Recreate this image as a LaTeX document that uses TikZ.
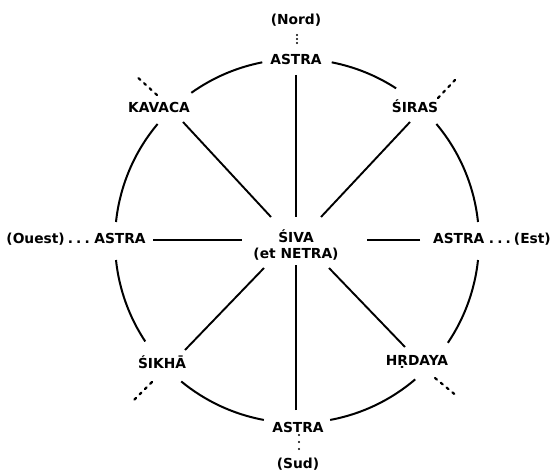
\documentclass[tikz,border=0pt]{standalone}
\usepackage{fontspec}
\usetikzlibrary{calc}
\newfontfamily\labfont{DejaVu Sans}
\newcommand{\tdots}{.\hspace{3.2pt}.\hspace{3.2pt}.}
\begin{document}
\begin{tikzpicture}[x=1pt,y=1pt,
  lab/.style={font=\labfont\bfseries\fontsize{13.8}{16.5}\selectfont, inner sep=0pt},
  ln/.style={line width=1.9pt},
  arcln/.style={line width=2pt},
  dt/.style={line width=2.2pt, dash pattern=on 2.5pt off 5pt, line cap=round},
  pt/.style={fill=black, inner sep=0pt, minimum size=2.2pt, circle}]
\useasboundingbox (0,0) rectangle (552,472);
\coordinate (c) at (297,231);
\coordinate (er) at (551,0);
% labels
\node[lab] (nord) at (296,452) {(Nord)};
\node[lab] (aN) at (296,413) {ASTRA};
\node[lab] (kav) at (159,365) {KAVACA};
\node[lab] (sir) at (415,366) {ŚIRAS};
\node[lab] (aW) at (120,234) {ASTRA};
\node[lab, anchor=base east] (ouest) at ([xshift=-4pt]aW.base west) {(Ouest)\hspace{3pt}\tdots};
\node[lab, anchor=base east] (est) at (aW.base -| er) {\tdots\hspace{3pt}(Est)};
\node[lab, anchor=base east] (aE) at ([xshift=-4pt]est.base west) {ASTRA};
\node[lab, align=center] (siva) at (296,227) {ŚIVA\\(et NETRA)};
\node[lab] (sik) at (162,110) {ŚIKHĀ};
\node[lab] (hrd) at (417,110) {HṚDAYA};
\node[lab] (aS) at (298,45) {ASTRA};
\node[lab] (sud) at (298,8) {(Sud)};
% circle arcs
\foreach \a/\b in {6/40, 57/79, 101/125.5, 140/174, 186/213.5, 230.5/259.5, 280.5/310.5, 326/354}
  \draw[arcln] ($(c)+(\a:182)$) arc[start angle=\a, end angle=\b, radius=182];
% radial lines
\coordinate (nO) at (296,397); \coordinate (nI) at (296,255);
\coordinate (sO) at (296,62);  \coordinate (sI) at (296,207);
\coordinate (wO) at (153,232); \coordinate (wI) at (242,232);
\coordinate (eO) at (420,232); \coordinate (eI) at (367,232);
\coordinate (kO) at (183,350); \coordinate (kI) at (271,255);
\coordinate (rO) at (410,350); \coordinate (rI) at (321,255);
\coordinate (hO) at (185,122); \coordinate (hI) at (264,204);
\coordinate (dO) at (405,125); \coordinate (dI) at (329,204);
\foreach \p/\q in {nO/nI, sO/sI, wO/wI, eO/eI, kO/kI, rO/rI, hO/hI, dO/dI}
  \draw[ln] (\p) -- (\q);
% dotted extensions
\coordinate (kd1) at (157,377); \coordinate (kd2) at (135,397);
\coordinate (rd1) at (438,374); \coordinate (rd2) at (455,392);
\coordinate (hd1) at (152,90);  \coordinate (hd2) at (134,72);
\coordinate (dd1) at (435,94);  \coordinate (dd2) at (458,75);
\foreach \p/\q in {kd1/kd2, rd1/rd2, hd1/hd2, dd1/dd2}
  \draw[dt] (\p) -- (\q);
% vertical dots
\foreach \y in {437,433,429} \node[pt] at (297,\y) {};
\foreach \y in {37,30,23} \node[pt] at (299,\y) {};
\end{tikzpicture}
\end{document}
